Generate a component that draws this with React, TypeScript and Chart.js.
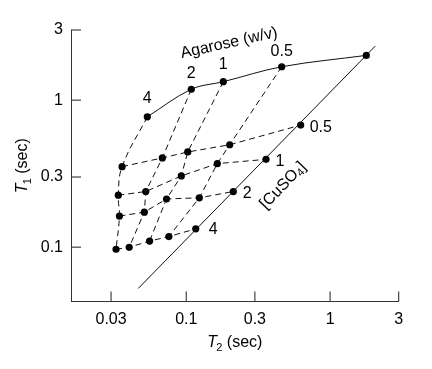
import React, { useEffect, useRef } from 'react';
import { Chart, registerables } from 'chart.js';

Chart.register(...registerables);

const FONT = '"Liberation Sans", Arial, Helvetica, sans-serif';

// Columns of the grid: agarose concentration (% w/v); the 5th column is CuSO4 in water
const agaroseLevels = ['4', '2', '1', '0.5'];
// Rows of the grid: CuSO4 concentration; the first row has no CuSO4
const cuso4Levels = ['0.5', '1', '2', '4'];

// T2 / T1 (sec) for each row, columns ordered agarose 4, 2, 1, 0.5, 0 %
const t2NoCu = [0.0536, 0.1084, 0.181, 0.461, 1.786];
const t1NoCu = [0.77, 1.186, 1.335, 1.687, 2.016];
const t2Cu05 = [0.0358, 0.0682, 0.1024, 0.2005, 0.6247];
const t1Cu05 = [0.353, 0.4044, 0.4441, 0.4974, 0.6764];
const t2Cu1 = [0.0337, 0.0523, 0.0924, 0.1644, 0.3585];
const t1Cu1 = [0.2257, 0.239, 0.3053, 0.37, 0.3957];
const t2Cu2 = [0.0343, 0.0511, 0.0729, 0.1233, 0.2124];
const t1Cu2 = [0.1627, 0.1731, 0.2127, 0.2167, 0.239];
const t2Cu4 = [0.0325, 0.0401, 0.0556, 0.0757, 0.1164];
const t1Cu4 = [0.0968, 0.0998, 0.11, 0.1181, 0.1332];

// straight [CuSO4] line end points
const cuLineT2 = [0.0464, 2.06];
const cuLineT1 = [0.0524, 2.33];

const xTickValues = [0.03, 0.1, 0.3, 1, 3];
const yTickValues = [0.1, 0.3, 1, 3];
const xTickLabels = ['0.03', '0.1', '0.3', '1', '3'];
const yTickLabels = ['0.1', '0.3', '1', '3'];

const X_MIN = 0.0158;
const X_MAX = 3;
const Y_MIN = 0.0427;
const Y_MAX = 3;

const rowsT2 = [t2NoCu, t2Cu05, t2Cu1, t2Cu2, t2Cu4];
const rowsT1 = [t1NoCu, t1Cu05, t1Cu1, t1Cu2, t1Cu4];

const pts = (xs: number[], ys: number[]) => xs.map((x, i) => ({ x, y: ys[i] }));

// label layout offsets (pixels)
const topLabelDy = [-18.5, -16, -17.5, -15];
const rightLabelDx = [9, 9.5, 9.5, 13];
const rightLabelDy = [2, 2, 2, 1];

type Part = { t: string; size: number; italic?: boolean; dy?: number; dx?: number };

function drawRich(
  ctx: CanvasRenderingContext2D,
  parts: Part[],
  cx: number,
  cy: number,
  angle: number,
  baseline: CanvasTextBaseline
) {
  ctx.save();
  ctx.translate(cx, cy);
  ctx.rotate(angle);
  ctx.textBaseline = baseline;
  ctx.textAlign = 'left';
  const fontOf = (p: Part) => `${p.italic ? 'italic ' : ''}${p.size}px ${FONT}`;
  const widths = parts.map((p) => {
    ctx.font = fontOf(p);
    return ctx.measureText(p.t).width + (p.dx || 0);
  });
  const total = widths.reduce((a, b) => a + b, 0);
  let xx = -total / 2;
  parts.forEach((p, i) => {
    ctx.font = fontOf(p);
    ctx.fillText(p.t, xx + (p.dx || 0), p.dy || 0);
    xx += widths[i];
  });
  ctx.restore();
}

const decorPlugin = {
  id: 'decor',
  afterDraw(chart: any) {
    const { ctx, chartArea } = chart;
    const x = chart.scales.x;
    const y = chart.scales.y;
    ctx.save();
    // inward tick marks
    ctx.strokeStyle = '#333';
    ctx.lineWidth = 1.1;
    xTickValues.forEach((v) => {
      const px = x.getPixelForValue(v);
      ctx.beginPath();
      ctx.moveTo(px, chartArea.bottom);
      ctx.lineTo(px, chartArea.bottom - 10);
      ctx.stroke();
    });
    yTickValues.forEach((v) => {
      const py = y.getPixelForValue(v);
      ctx.beginPath();
      ctx.moveTo(chartArea.left, py);
      ctx.lineTo(chartArea.left + 10, py);
      ctx.stroke();
    });

    ctx.fillStyle = '#000';
    ctx.font = `16px ${FONT}`;
    // agarose labels above top points
    ctx.textAlign = 'center';
    ctx.textBaseline = 'middle';
    agaroseLevels.forEach((lab, i) => {
      const px = x.getPixelForValue(t2NoCu[i]);
      const py = y.getPixelForValue(t1NoCu[i]);
      ctx.fillText(lab, px, py + topLabelDy[i]);
    });
    // CuSO4 labels right of the [CuSO4] points
    ctx.textAlign = 'left';
    cuso4Levels.forEach((lab, i) => {
      const px = x.getPixelForValue(rowsT2[i + 1][4]);
      const py = y.getPixelForValue(rowsT1[i + 1][4]);
      ctx.fillText(lab, px + rightLabelDx[i], py + rightLabelDy[i]);
    });

    // "Agarose (w/v)" label
    drawRich(
      ctx,
      [{ t: 'Agarose (w/v)', size: 16 }],
      x.getPixelForValue(0.1983),
      y.getPixelForValue(2.442),
      (-12.5 * Math.PI) / 180,
      'middle'
    );
    // "[CuSO4]" label
    drawRich(
      ctx,
      [
        { t: '[CuSO', size: 16 },
        { t: '4', size: 11, dy: 4 },
        { t: ']', size: 16 },
      ],
      x.getPixelForValue(0.4707),
      y.getPixelForValue(0.2625),
      (-46 * Math.PI) / 180,
      'middle'
    );

    // axis titles
    const cxArea = (chartArea.left + chartArea.right) / 2;
    const cyArea = (chartArea.top + chartArea.bottom) / 2;
    drawRich(
      ctx,
      [
        { t: 'T', size: 16, italic: true },
        { t: '2', size: 11, dy: 4, dx: -0.8 },
        { t: ' (sec)', size: 16 },
      ],
      cxArea,
      chartArea.bottom + 45,
      0,
      'alphabetic'
    );
    drawRich(
      ctx,
      [
        { t: 'T', size: 16, italic: true },
        { t: '1', size: 11, dy: 4, dx: -0.8 },
        { t: ' (sec)', size: 16 },
      ],
      chartArea.left - 44,
      cyArea,
      -Math.PI / 2,
      'alphabetic'
    );
    ctx.restore();
  },
};

export default function App() {
  const ref = useRef<HTMLCanvasElement | null>(null);

  useEffect(() => {
    if (!ref.current) return;
    const dashed = [6, 4];
    const datasets: any[] = [];

    // solid agarose curve through the points without CuSO4
    datasets.push({
      data: pts(t2NoCu, t1NoCu),
      showLine: true,
      borderColor: '#111',
      borderWidth: 1,
      tension: 0.35,
      pointRadius: 3.6,
      pointBackgroundColor: '#000',
      pointBorderWidth: 0,
    });
    // straight [CuSO4] line
    datasets.push({
      data: pts(cuLineT2, cuLineT1),
      showLine: true,
      borderColor: '#111',
      borderWidth: 1,
      pointRadius: 0,
    });
    // dashed agarose columns
    agaroseLevels.forEach((_, j) => {
      datasets.push({
        data: rowsT2.map((r, i) => ({ x: r[j], y: rowsT1[i][j] })),
        showLine: true,
        borderColor: '#111',
        borderWidth: 1,
        borderDash: dashed,
        tension: j === 0 ? 0.4 : 0,
        pointRadius: 0,
      });
    });
    // dashed CuSO4 rows with points
    cuso4Levels.forEach((_, k) => {
      datasets.push({
        data: pts(rowsT2[k + 1], rowsT1[k + 1]),
        showLine: true,
        borderColor: '#111',
        borderWidth: 1,
        borderDash: dashed,
        pointRadius: 3.6,
        pointBackgroundColor: '#000',
        pointBorderWidth: 0,
      });
    });

    const tickFont = { family: FONT, size: 16 };
    const chart = new Chart(ref.current, {
      type: 'scatter',
      data: { datasets },
      plugins: [decorPlugin],
      options: {
        responsive: false,
        animation: false,
        devicePixelRatio: 1,
        layout: { padding: { top: 30, right: 33.3, left: 0, bottom: 0 } },
        plugins: { legend: { display: false }, tooltip: { enabled: false } },
        scales: {
          x: {
            type: 'logarithmic',
            min: X_MIN,
            max: X_MAX,
            grid: { display: false, drawTicks: false },
            border: { display: true, color: '#333', width: 1 },
            afterBuildTicks: (s: any) => {
              s.ticks = xTickValues.map((v) => ({ value: v }));
            },
            afterFit: (s: any) => {
              s.height = 369 - 301.5;
            },
            ticks: {
              autoSkip: false,
              maxRotation: 0,
              padding: 8,
              color: '#000',
              font: tickFont,
              callback: (v: any) => {
                const i = xTickValues.indexOf(Number(v));
                return i >= 0 ? xTickLabels[i] : '';
              },
            },
          },
          y: {
            type: 'logarithmic',
            min: Y_MIN,
            max: Y_MAX,
            grid: { display: false, drawTicks: false },
            border: { display: true, color: '#333', width: 1 },
            afterBuildTicks: (s: any) => {
              s.ticks = yTickValues.map((v) => ({ value: v }));
            },
            afterFit: (s: any) => {
              s.width = 71;
            },
            ticks: {
              autoSkip: false,
              padding: 8,
              color: '#000',
              font: tickFont,
              callback: (v: any) => {
                const i = yTickValues.indexOf(Number(v));
                return i >= 0 ? yTickLabels[i] : '';
              },
            },
          },
        },
      } as any,
    });
    return () => chart.destroy();
  }, []);

  return (
    <div style={{ position: 'absolute', left: 0, top: 0, width: 432, height: 369, background: '#fff' }}>
      <canvas ref={ref} width={432} height={369} style={{ display: 'block' }} />
    </div>
  );
}
